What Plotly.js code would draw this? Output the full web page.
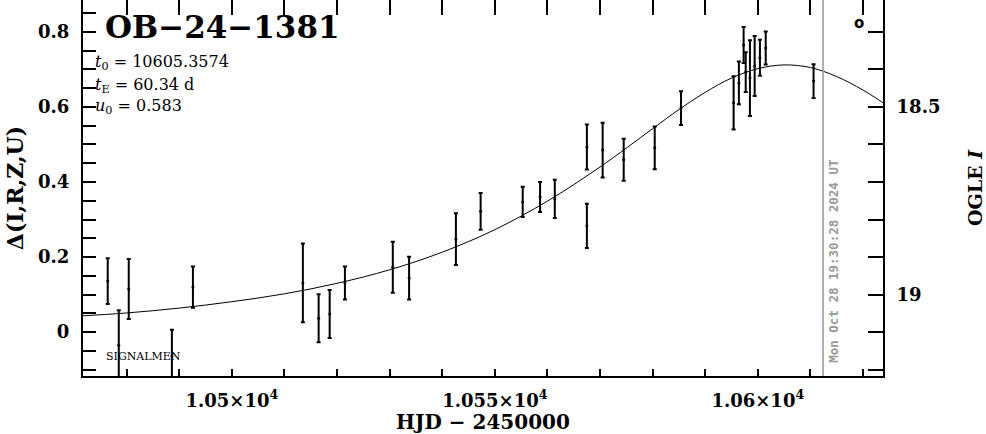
<!DOCTYPE html>
<html>
<head>
<meta charset="utf-8">
<script src="https://cdn.plot.ly/plotly-3.0.1.min.js"></script>
<style>html,body{margin:0;padding:0;background:#fff;}#plot{width:986px;height:434px;}</style>
</head>
<body>
<div id="plot"></div>
<script>
// Observations: HJD-2450000, Δ magnitude, error
const obsT = [10476.4, 10478.5, 10480.4, 10488.6, 10492.6, 10513.5, 10516.5, 10518.6, 10521.5, 10530.6,
              10533.7, 10542.6, 10547.3, 10555.3, 10558.6, 10561.4, 10567.5, 10567.5, 10570.5, 10574.5,
              10580.4, 10585.4, 10595.4, 10596.4, 10597.3, 10597.7, 10598.5, 10599.4, 10600.4, 10601.5, 10610.6];
const obsDelta = [0.136, -0.035, 0.115, -0.064, 0.120, 0.131, 0.037, 0.048, 0.131, 0.173,
                  0.144, 0.248, 0.322, 0.347, 0.360, 0.355, 0.493, 0.283, 0.485, 0.459,
                  0.491, 0.597, 0.611, 0.664, 0.765, 0.693, 0.677, 0.709, 0.731, 0.757, 0.669];
const obsErr = [0.061, 0.093, 0.080, 0.070, 0.055, 0.105, 0.064, 0.064, 0.044, 0.068,
                0.057, 0.069, 0.049, 0.040, 0.040, 0.051, 0.060, 0.059, 0.073, 0.056,
                0.057, 0.045, 0.071, 0.057, 0.048, 0.053, 0.101, 0.080, 0.048, 0.044, 0.045];

// Model curve
const modelT = [10470, 10480, 10490, 10500, 10510, 10520, 10530, 10540, 10550, 10560, 10570,
                10580, 10585, 10590, 10595, 10600, 10605, 10610, 10615, 10620, 10625];
const modelDelta = [0.042, 0.051, 0.064, 0.081, 0.102, 0.130, 0.166, 0.213, 0.273, 0.349, 0.440,
                    0.542, 0.593, 0.639, 0.677, 0.702, 0.712, 0.705, 0.681, 0.645, 0.600];

// Axis labels
const xTickVals = [10500, 10550, 10600];
const xTickText = ['1.05×10<sup>4</sup>', '1.055×10<sup>4</sup>', '1.06×10<sup>4</sup>'];
const magTickVals = [18.5, 19.0];
const magTickText = ['18.5', '19'];

const eventName = 'OB−24−1381';
const paramLines = ['<i>t</i><sub>0</sub> = 10605.3574', '<i>t</i><sub>E</sub> = 60.34 d', '<i>u</i><sub>0</sub> = 0.583'];
const stampText = 'Mon Oct 28 19:30:28 2024 UT';
const nowT = 10612.4;

const xRange = [10471.7, 10623.8];
const yRange = [-0.117, 0.885];
const magRange = [19.217, 18.215];

const serif = 'DejaVu Serif';
const tickFont = {family: serif, size: 18, color: '#000', weight: 'bold'};

const traces = [
  {x: modelT, y: modelDelta, mode: 'lines', line: {color: '#000', width: 1, shape: 'spline'},
   hoverinfo: 'skip', showlegend: false},
  {x: obsT, y: obsDelta, mode: 'markers', marker: {color: '#000', size: 3},
   error_y: {type: 'data', array: obsErr, visible: true, color: '#000', thickness: 2, width: 2},
   cliponaxis: false, showlegend: false},
  {x: [10500], y: [19], xaxis: 'x2', yaxis: 'y2', mode: 'markers', marker: {opacity: 0},
   hoverinfo: 'skip', showlegend: false}
];

const annotations = [
  {xref: 'paper', yref: 'paper', x: 0.025, y: 0.928, xanchor: 'left', yanchor: 'middle', showarrow: false,
   text: '<b>' + eventName + '</b>', font: {family: serif, size: 31, color: '#000'}}
];
const paramY = [63, 85, 106];
paramLines.forEach((s, i) => annotations.push({
  xref: 'paper', yref: 'paper', x: 0.012, y: (376 - paramY[i]) / 376, xanchor: 'left', yanchor: 'middle',
  showarrow: false, text: s, font: {family: serif, size: 16, color: '#000'}
}));
annotations.push({xref: 'paper', yref: 'paper', x: 0.026, y: 0.053, xanchor: 'left', yanchor: 'middle',
  showarrow: false, text: 'SIGNALMEN', font: {family: serif, size: 11, color: '#000'}});
annotations.push({xref: 'paper', yref: 'paper', x: (859 - 83) / 800, y: (376 - 23) / 376, xanchor: 'center', yanchor: 'middle',
  showarrow: false, text: '<b>o</b>', font: {family: 'DejaVu Sans', size: 15, color: '#000'}});
annotations.push({xref: 'x', yref: 'paper', x: nowT, y: 0.03, xanchor: 'left', yanchor: 'bottom', xshift: 1,
  textangle: -90, showarrow: false, text: '<b>' + stampText + '</b>',
  font: {family: 'DejaVu Sans Mono', size: 12.5, color: '#999'}});

const layout = {
  width: 986, height: 434,
  margin: {l: 83, r: 103, t: 0, b: 58, pad: 0},
  paper_bgcolor: '#fff', plot_bgcolor: '#fff',
  showlegend: false,
  xaxis: {range: xRange, showgrid: false, zeroline: false, showline: true, linecolor: '#000', linewidth: 2,
    ticks: 'inside', ticklen: 7, tickwidth: 2, tickcolor: '#000',
    tickmode: 'array', tickvals: xTickVals, ticktext: xTickText, ticklabelstandoff: 7,
    minor: {tickmode: 'linear', dtick: 10, tick0: 10500, ticks: 'inside', ticklen: 7, tickwidth: 2, tickcolor: '#000'},
    tickfont: tickFont,
    title: {text: '<b>HJD − 2450000</b>', font: {family: serif, size: 20, color: '#000'}, standoff: 5}},
  xaxis2: {range: xRange, overlaying: 'x', side: 'top', anchor: 'y2', showgrid: false, zeroline: false, showline: false,
    ticks: 'inside', ticklen: 15, tickwidth: 2, tickcolor: '#000', dtick: 10, tick0: 10500, showticklabels: false},
  yaxis: {range: yRange, showgrid: false, zeroline: false, showline: true, linecolor: '#000', linewidth: 2,
    ticks: 'inside', ticklen: 13, tickwidth: 2, tickcolor: '#000', dtick: 0.2, tick0: 0, ticklabelstandoff: 8,
    minor: {dtick: 0.05, tick0: 0, ticks: 'inside', ticklen: 13, tickwidth: 2, tickcolor: '#000'},
    tickfont: tickFont, tickformat: '~g',
    title: {text: '<b>Δ(I,R,Z,U)</b>', font: {family: serif, size: 22, color: '#000'}, standoff: 8}},
  yaxis2: {range: magRange, overlaying: 'y', side: 'right', anchor: 'x2', showgrid: false, zeroline: false,
    showline: true, linecolor: '#000', linewidth: 2,
    ticks: 'inside', ticklen: 15, tickwidth: 2, tickcolor: '#000', ticklabelstandoff: 8,
    tickmode: 'array', tickvals: magTickVals, ticktext: magTickText,
    minor: {tickmode: 'linear', dtick: 0.1, tick0: 18.5, ticks: 'inside', ticklen: 15, tickwidth: 2, tickcolor: '#000'},
    tickfont: tickFont,
    title: {text: '<b>OGLE <i>I</i></b>', font: {family: serif, size: 19, color: '#000'}, standoff: 34}},
  shapes: [
    {type: 'line', xref: 'x', yref: 'paper', x0: nowT, x1: nowT, y0: 0, y1: 1, line: {color: '#999', width: 1.5}}
  ],
  annotations: annotations
};

Plotly.newPlot('plot', traces, layout, {staticPlot: true, displayModeBar: false});
</script>
</body>
</html>
